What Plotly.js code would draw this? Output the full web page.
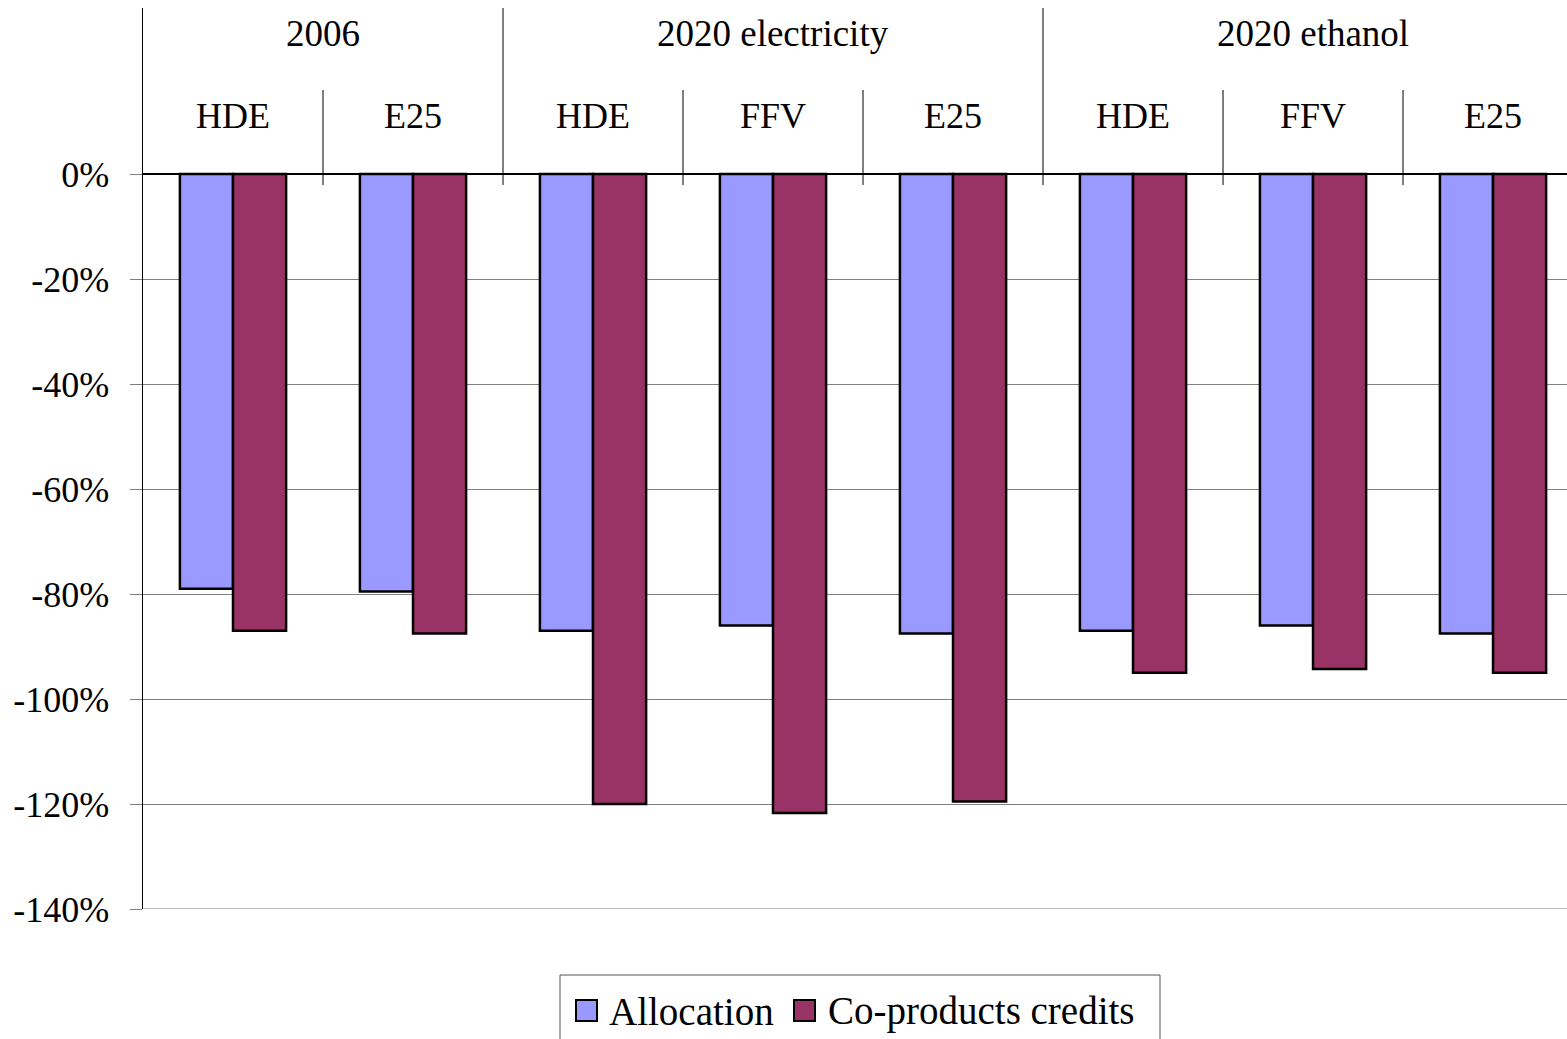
<!DOCTYPE html>
<html>
<head>
<meta charset="utf-8">
<script src="https://cdn.plot.ly/plotly-3.0.1.min.js"></script>
<style>html,body{margin:0;padding:0;background:#fff;}#chart{width:1567px;height:1039px;}</style>
</head>
<body>
<div id="chart"></div>
<script>
const groups = ["2006", "2020 electricity", "2020 ethanol"];
const groupSizes = [2, 3, 3];
const subcats = ["HDE", "E25", "HDE", "FFV", "E25", "HDE", "FFV", "E25"];
const seriesNames = ["Allocation", "Co-products credits"];
const allocation = [-79, -79.5, -87, -86, -87.5, -87, -86, -87.5];
const coproducts = [-87, -87.5, -120, -121.7, -119.5, -95, -94.3, -95];
const tickVals = [0, -20, -40, -60, -80, -100, -120, -140];
const tickText = ["0%", "-20%", "-40%", "-60%", "-80%", "-100%", "-120%", "-140%"];

const FONT = "'Liberation Serif', 'Times New Roman', Times, serif";
const COLORS = ["#9999FF", "#993366"];
const xs = subcats.map((_, i) => i);
const yTop = 31.62;

const W = 1567, H = 1039, ML = 143, MR = 0, MT = 8, MB = 130;
const pw = W - ML - MR, ph = H - MT - MB;
const px2x = p => (p - ML) / pw;
const px2y = p => (H - MB - p) / ph;

const traces = [
  {type: "bar", name: seriesNames[0], x: xs, y: allocation,
   marker: {color: COLORS[0], line: {color: "#000", width: 2.5}}},
  {type: "bar", name: seriesNames[1], x: xs, y: coproducts,
   marker: {color: COLORS[1], line: {color: "#000", width: 2.5}}}
];

const shapes = [];
const annotations = [];
let start = 0;
groups.forEach((g, gi) => {
  const n = groupSizes[gi];
  annotations.push({x: start + (n - 1) / 2, y: 26.7, xref: "x", yref: "y", text: g,
    showarrow: false, font: {family: FONT, size: 37, color: "#000"}});
  if (start > 0) {
    shapes.push({type: "line", xref: "x", yref: "y", x0: start - 0.5, x1: start - 0.5,
      y0: yTop, y1: -2.1, line: {color: "#000", width: 1}});
  }
  for (let k = 1; k < n; k++) {
    const b = start + k - 0.5;
    shapes.push({type: "line", xref: "x", yref: "y", x0: b, x1: b,
      y0: 16, y1: -2.1, line: {color: "#000", width: 1}});
  }
  start += n;
});
subcats.forEach((s, i) => {
  annotations.push({x: i, y: 11.05, xref: "x", yref: "y", text: s, showarrow: false,
    font: {family: FONT, size: 36, color: "#000"}});
});
// bottom gridline at -140
shapes.push({type: "line", xref: "paper", yref: "y", x0: 0, x1: 1, y0: -140, y1: -140,
  line: {color: "#808080", width: 1}});

// custom legend
shapes.push({type: "rect", xref: "paper", yref: "paper",
  x0: px2x(560), x1: px2x(1160), y0: px2y(975), y1: px2y(1050),
  line: {color: "#555", width: 1}, fillcolor: "rgba(0,0,0,0)"});
const legSq = [576, 794];
const legTx = [607, 826];
seriesNames.forEach((nm, i) => {
  shapes.push({type: "rect", xref: "paper", yref: "paper",
    x0: px2x(legSq[i]), x1: px2x(legSq[i] + 21), y0: px2y(1000), y1: px2y(1021),
    line: {color: "#000", width: 2}, fillcolor: COLORS[i]});
  annotations.push({xref: "paper", yref: "paper", x: px2x(legTx[i]), y: px2y(1011),
    xanchor: "left", yanchor: "middle", text: nm, showarrow: false,
    font: {family: FONT, size: 39, color: "#000"}});
});

const layout = {
  width: W, height: H,
  margin: {l: ML, r: MR, t: MT, b: MB, pad: 0},
  paper_bgcolor: "#fff", plot_bgcolor: "#fff",
  barmode: "group", bargap: 0.41, bargroupgap: 0,
  font: {family: FONT, size: 36, color: "#000"},
  xaxis: {range: [-0.5, 7.411], showticklabels: false, showgrid: false, zeroline: false,
    showline: false, ticks: ""},
  yaxis: {range: [-140, yTop], tickvals: tickVals, ticktext: tickText,
    showgrid: true, gridcolor: "#808080", gridwidth: 1,
    zeroline: true, zerolinecolor: "#000", zerolinewidth: 1.5,
    showline: true, linecolor: "#000", linewidth: 1.5,
    ticks: "outside", ticklen: 12, tickcolor: "#808080", ticklabelstandoff: 13,
    tickfont: {family: FONT, size: 36, color: "#000"}},
  showlegend: false,
  shapes: shapes,
  annotations: annotations
};

Plotly.newPlot("chart", traces, layout, {displayModeBar: false, staticPlot: true});
</script>
</body>
</html>
